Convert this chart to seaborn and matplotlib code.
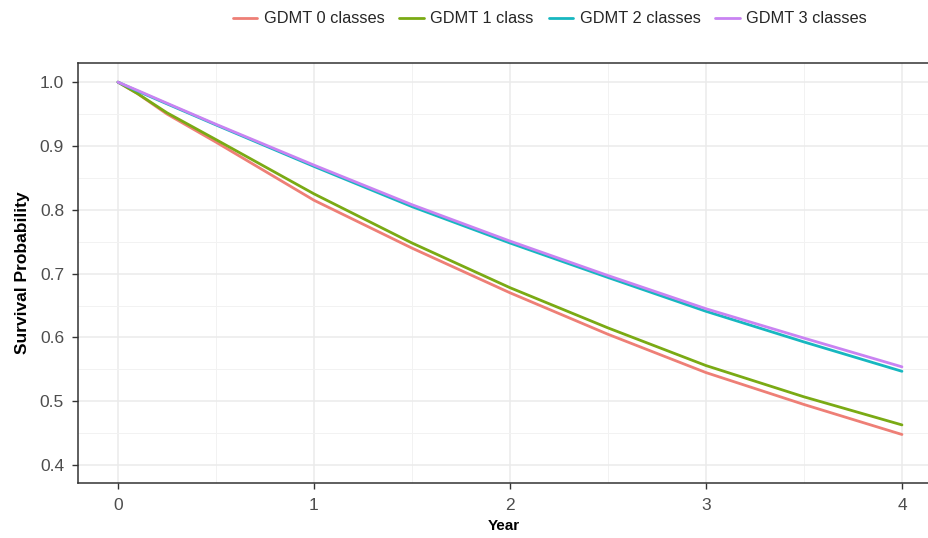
import matplotlib
matplotlib.use("Agg")
import matplotlib.pyplot as plt
from matplotlib.ticker import MultipleLocator
import seaborn as sns
import pandas as pd

years = [0, 0.1, 0.25, 0.5, 1.0, 1.5, 2.0, 2.5, 3.0, 3.5, 4.0]
gdmt0 = [1.0, 0.982, 0.950, 0.906, 0.815, 0.740, 0.670, 0.605, 0.545, 0.495, 0.448]
gdmt1 = [1.0, 0.982, 0.952, 0.910, 0.825, 0.748, 0.678, 0.615, 0.556, 0.507, 0.463]
gdmt2 = [1.0, 0.986, 0.966, 0.933, 0.868, 0.805, 0.748, 0.694, 0.641, 0.593, 0.547]
gdmt3 = [1.0, 0.987, 0.967, 0.934, 0.870, 0.808, 0.751, 0.697, 0.645, 0.599, 0.554]
labels = ["GDMT 0 classes", "GDMT 1 class", "GDMT 2 classes", "GDMT 3 classes"]
colors = ["#EE7F76", "#7AAA14", "#17B7C0", "#C983F2"]

rows = []
for lab, vals in zip(labels, [gdmt0, gdmt1, gdmt2, gdmt3]):
    for t, v in zip(years, vals):
        rows.append({"Year": t, "Survival Probability": v, "group": lab})
df = pd.DataFrame(rows)

sns.set_theme(style="white")
plt.rcParams["font.family"] = ["Liberation Sans", "DejaVu Sans"]

fig = plt.figure(figsize=(9.29, 5.38), dpi=100)
ax = fig.add_axes([78 / 929, 55 / 538, 1 - 78 / 929, (483 - 63) / 538])

sns.lineplot(data=df, x="Year", y="Survival Probability", hue="group",
             hue_order=labels, palette=colors, linewidth=2.0, ax=ax,
             legend=False, zorder=3)

ax.set_xlim(-0.204, 4.138)
ax.set_ylim(0.372, 1.030)
ax.xaxis.set_minor_locator(MultipleLocator(0.5))
ax.yaxis.set_minor_locator(MultipleLocator(0.05))
ax.set_xticks([0, 1, 2, 3, 4])
ax.set_xticklabels(["0", "1", "2", "3", "4"])
ax.set_yticks([0.4, 0.5, 0.6, 0.7, 0.8, 0.9, 1.0])
ax.set_yticklabels(["0.4", "0.5", "0.6", "0.7", "0.8", "0.9", "1.0"])

ax.grid(which="major", color="#EBEBEB", linewidth=1.1, zorder=0)
ax.grid(which="minor", color="#F2F2F2", linewidth=0.7, zorder=0)
ax.set_axisbelow(True)

for side, sp in ax.spines.items():
    sp.set_color("#333333")
    sp.set_linewidth(1.1)
ax.spines["right"].set_visible(False)

ax.tick_params(axis="x", which="major", length=4, width=1, color="#333333",
               labelsize=12.5, labelcolor="#4D4D4D", pad=7, bottom=True)
ax.tick_params(axis="y", which="major", length=4, width=1, color="#333333",
               labelsize=12.5, labelcolor="#4D4D4D", pad=6, left=True)
ax.tick_params(axis="both", which="minor", length=0)

ax.set_xlabel("Year", fontsize=11, fontweight="bold", color="black", labelpad=4)
ax.set_ylabel("Survival Probability", fontsize=12.5, fontweight="bold", color="black", labelpad=7)

handles = [plt.Line2D([0], [0], color=c, linewidth=2) for c in colors]
fig.legend(handles, labels, loc="center", bbox_to_anchor=(0.592, 0.965), ncol=4,
           frameon=False, fontsize=11.8, handlelength=1.5, handletextpad=0.4,
           columnspacing=0.9)

fig.savefig("out.png", dpi=100)
